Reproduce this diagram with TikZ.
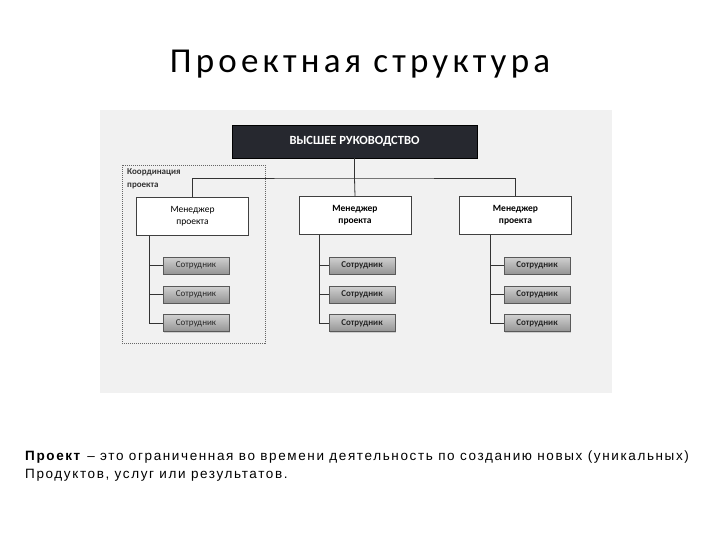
\documentclass[tikz,border=0pt]{standalone}
\usepackage{fontspec}
\setmainfont{Carlito}
\newfontfamily\titlefont[LetterSpace=12]{Carlito}
\newfontfamily\deffont[LetterSpace=12]{Liberation Sans}
\usepackage{tikz}
\usetikzlibrary{shadows}
\definecolor{boss}{HTML}{26282F}
\definecolor{photo}{HTML}{F1F1F1}
\tikzstyle{topbox}=[draw=black, fill=boss, text=white, font=\bfseries\fontsize{12.5}{14}\selectfont, minimum width=245pt, minimum height=33pt, inner sep=0pt]
\tikzstyle{mgrbox}=[draw=black!75, fill=white, align=center, font=\fontsize{9.5}{12}\selectfont, minimum width=112pt, minimum height=38pt, inner sep=0pt]
\tikzstyle{empbox}=[draw=black!65, top color=black!18, bottom color=black!42, drop shadow={shadow xshift=1pt, shadow yshift=-1pt, opacity=0.3}, text=black!85, font=\fontsize{9}{10}\selectfont, minimum width=66pt, minimum height=17pt, inner sep=0pt]
\tikzstyle{link}=[draw=black!80, line width=0.8pt]
\begin{document}
\begin{tikzpicture}[x=1pt, y=-1pt]
	\useasboundingbox (0,0) rectangle (720,540);
	% title
	\node (title) at (360,73)[anchor=base, font=\titlefont\fontsize{35}{38}\selectfont] {Проектная структура};
	% photo of the chart
	\fill[photo] (100,110) rectangle (612,393);
	\begin{scope}
		\node (coord) at (122,165)[draw=black!60, dashed, dash pattern=on 1pt off 1pt, minimum width=143pt, minimum height=178pt, anchor=north west] {};
		\node (coordlbl) at (127,168)[anchor=north west, align=left, font=\bfseries\fontsize{9}{13}\selectfont, text=black!80, inner sep=0pt] {Координация\\проекта};
		\node (top) at (354.5,141.5)[topbox] {ВЫСШЕЕ РУКОВОДСТВО};
		\node (mgrA) at (192.5,216.5)[mgrbox] {Менеджер\\проекта};
		\node (mgrB) at (355,215.5)[mgrbox, font=\bfseries\fontsize{9.5}{12}\selectfont] {Менеджер\\проекта};
		\node (mgrC) at (515.5,215.5)[mgrbox, font=\bfseries\fontsize{9.5}{12}\selectfont] {Менеджер\\проекта};
		\node (empA1) at (196,265.5)[empbox] {Сотрудник};
		\node (empA2) at (196,294.5)[empbox] {Сотрудник};
		\node (empA3) at (196,323)[empbox] {Сотрудник};
		\node (empB1) at (362,265.5)[empbox, font=\bfseries\fontsize{9}{10}\selectfont] {Сотрудник};
		\node (empB2) at (362,294.5)[empbox, font=\bfseries\fontsize{9}{10}\selectfont] {Сотрудник};
		\node (empB3) at (362,323)[empbox, font=\bfseries\fontsize{9}{10}\selectfont] {Сотрудник};
		\node (empC1) at (537,265.5)[empbox, font=\bfseries\fontsize{9}{10}\selectfont] {Сотрудник};
		\node (empC2) at (537,294.5)[empbox, font=\bfseries\fontsize{9}{10}\selectfont] {Сотрудник};
		\node (empC3) at (537,323)[empbox, font=\bfseries\fontsize{9}{10}\selectfont] {Сотрудник};
		\coordinate (bar) at (354.5,178);
		\coordinate (busA) at (149,0);
		\coordinate (busB) at (319,0);
		\coordinate (busC) at (490,0);
	\end{scope}
	\begin{scope}
		\path [link] (top.south) -- (bar);
		\path [link] (mgrA.north) |- (bar) -| (mgrC.north);
		\path [link] (bar) -- (mgrB.north);
		\path [link] (mgrA.south -| busA) |- (empA3.west);
		\path [link] (mgrB.south -| busB) |- (empB3.west);
		\path [link] (mgrC.south -| busC) |- (empC3.west);
		\path [link] (empA1.west -| busA) -- (empA1.west);
		\path [link] (empA2.west -| busA) -- (empA2.west);
		\path [link] (empB1.west -| busB) -- (empB1.west);
		\path [link] (empB2.west -| busB) -- (empB2.west);
		\path [link] (empC1.west -| busC) -- (empC1.west);
		\path [link] (empC2.west -| busC) -- (empC2.west);
	\end{scope}
	% definition
	\node (def) at (25,478)[anchor=base west, align=left, inner sep=0pt, font=\deffont\fontsize{13.5}{18}\selectfont] {\textbf{Проект} – это ограниченная во времени деятельность по созданию новых (уникальных)\\Продуктов, услуг или результатов.};
\end{tikzpicture}
\end{document}
